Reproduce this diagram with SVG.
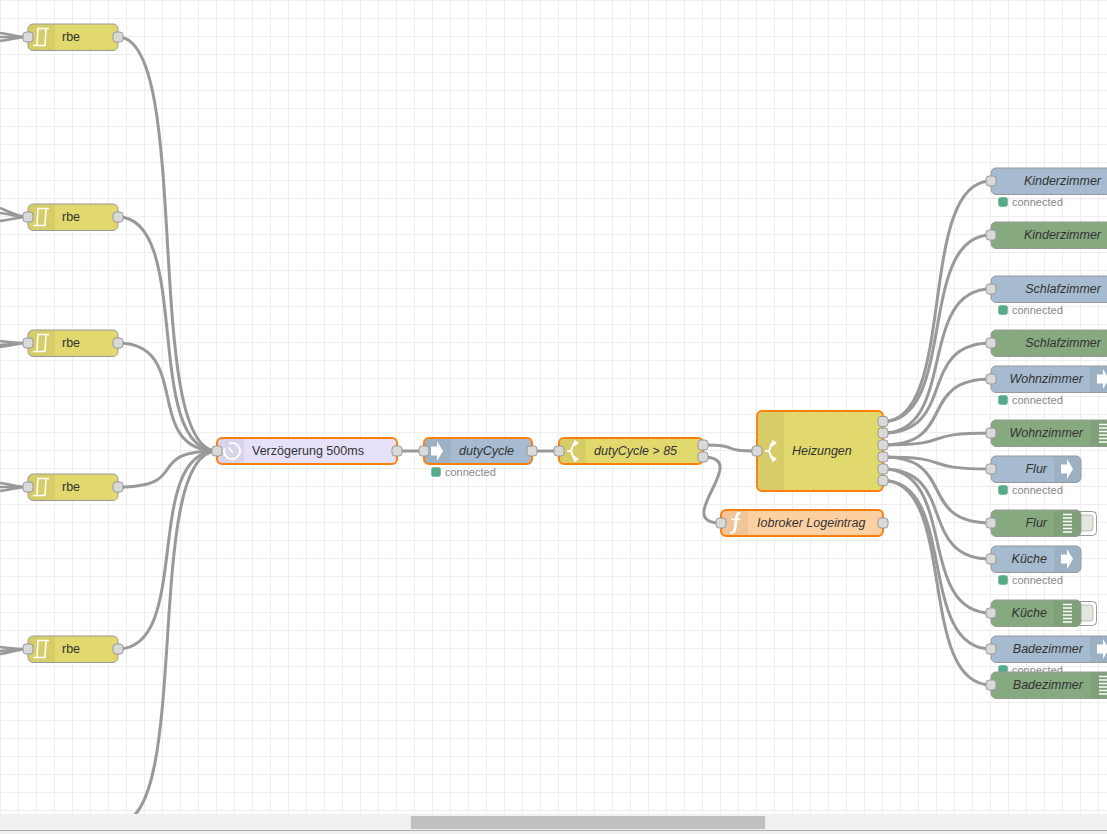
<svg xmlns="http://www.w3.org/2000/svg" width="1107" height="834" viewBox="0 0 1107 834">
<style>
text{font-family:"Liberation Sans",Arial,sans-serif;font-size:12.500px;fill:#333}
.i{font-style:italic}
.n{stroke:#999;stroke-width:1}
.sel{stroke:#ff7f0e;stroke-width:2}
.yellow{fill:#e2d96e}.purple{fill:#e6e0f8}.blue{fill:#a6bbcf}.green{fill:#87a980}.orange{fill:#fdd0a2}
.shade{fill:#000;fill-opacity:.05}
.p{fill:#d9d9d9;stroke:#999;stroke-width:1}
.w{fill:none;stroke:#999;stroke-width:3}
.stub{fill:none;stroke:#999;stroke-width:2.500}
.st{fill:#5a8;stroke:#5a8;stroke-opacity:.5;stroke-width:1}
text.s{font-size:11px;fill:#888}
.ic{fill:none;stroke:#fff;stroke-width:1.600}
.icf{fill:#fff}
</style>
<defs>
<pattern id="grid" width="18" height="18" patternUnits="userSpaceOnUse">
<rect width="18" height="18" fill="#fff"/>
<rect x="0" y="0" width="18" height="1" fill="#eee"/>
<rect x="0" y="0" width="1" height="18" fill="#eee"/>
</pattern>
<rect id="port" x="-5" y="-5" width="10" height="10" rx="3" class="p"/>
<path id="ic-rbe" class="ic" stroke-linejoin="round" d="M-8 8.500H-4L-3 -8.500H8M-4 8.500H4L5 -8.500"/>
<g id="ic-switch"><path class="ic" style="stroke-width:2" d="M-6 0H-3C0 0 -1 -8 2 -8M-3 0C0 0 -1 8 2 8"/><path class="icf" d="M1 -11.500L6 -8L1 -4.500ZM1 4.500L6 8L1 11.500Z"/></g>
<path id="ic-arrow" class="icf" d="M-6 -4.500H0V-10L6 0L0 10V4.500H-6Z"/>
<path id="ic-debug" class="ic" style="stroke-width:1.400" d="M-4.500 -8.500H4.500M-4.500 -5H4.500M-4.500 -1.500H4.500M-4.500 2H4.500M-4.500 5.500H4.500M-4.500 9H4.500"/>
<g id="ic-clock"><path class="ic" style="stroke-width:1.800" d="M-3 -7.400A8 8 0 1 1 -7.400 -3"/><path class="ic" style="stroke-width:1.800" d="M-3.500 -3.500L1 1.500"/></g>
<path id="ic-f" class="icf" d="M5.500 -11C1 -11.500 .5 -8 0 -4.500H-3.500V-2.800H-.2L-1.500 6C-1.800 8.500 -3 9 -5 8.500V10.500C-.5 11.500 .8 9 1.300 6L2.500 -2.800H5.500V-4.500H2.800C3.200 -7 3.500 -9.200 5.500 -9.200Z"/>
</defs>
<rect id="background" width="1107" height="834" fill="url(#grid)"/>

<g id="connectors">
<path class="stub" d="M0 33C10 34 18 37 28 37M0 37H28M0 41C10 40 18 37 28 37"/>
<path class="stub" d="M0 208C10 212 18 217 28 217M0 213C10 214 18 217 28 217M0 221C10 220 18 217 28 217"/>
<path class="stub" d="M0 341C10 342 18 343 28 343M0 345C10 344 18 343 28 343M0 347C10 346 18 343 28 343"/>
<path class="stub" d="M0 483C10 484 18 487 28 487M0 487H28M0 491C10 490 18 487 28 487"/>
<path class="stub" d="M0 647C10 648 18 649 28 649M0 651C10 650 18 649 28 649M0 654C10 653 18 649 28 649"/>
<path class="w" d="M118 37C193 37 142 451 217 451"/>
<path class="w" d="M118 217C193 217 142 451 217 451"/>
<path class="w" d="M118 343C193 343 142 451 217 451"/>
<path class="w" d="M118 487C193 487 142 451 217 451"/>
<path class="w" d="M118 649C193 649 142 451 217 451"/>
<path class="w" d="M118 823C193 823 142 451 217 451"/>
<path class="w" d="M397 451H424"/>
<path class="w" d="M532 451H559"/>
<path class="w" d="M703 445C744 445 716 451 757 451"/>
<path class="w" d="M703 457C754 457 670 523 721 523"/>
<path class="w" d="M883 421.500C958 421.500 916 181 991 181"/>
<path class="w" d="M883 421.500C958 421.500 916 235 991 235"/>
<path class="w" d="M883 433C958 433 916 289 991 289"/>
<path class="w" d="M883 433C958 433 916 343 991 343"/>
<path class="w" d="M883 445C958 445 916 379 991 379"/>
<path class="w" d="M883 445C958 445 916 433 991 433"/>
<path class="w" d="M883 457C958 457 916 469 991 469"/>
<path class="w" d="M883 457C958 457 916 523 991 523"/>
<path class="w" d="M883 469C958 469 916 559 991 559"/>
<path class="w" d="M883 469C958 469 916 613 991 613"/>
<path class="w" d="M883 480.500C958 480.500 916 649 991 649"/>
<path class="w" d="M883 480.500C958 480.500 916 685 991 685"/>
</g>

<g id="rbe1"><rect class="n yellow" x="28" y="24" width="90" height="26.500" rx="5"/><path class="shade" d="M33 24.500H55V50H33Q28.500 50 28.500 46V29Q28.500 24.500 33 24.500Z"/><use href="#ic-rbe" x="41" y="37"/><text x="62" y="41">rbe</text><use href="#port" x="28" y="37"/><use href="#port" x="118" y="37"/></g>
<g id="rbe2"><rect class="n yellow" x="28" y="204" width="90" height="26.500" rx="5"/><path class="shade" d="M33 204.500H55V230H33Q28.500 230 28.500 226V209Q28.500 204.500 33 204.500Z"/><use href="#ic-rbe" x="41" y="217"/><text x="62" y="221">rbe</text><use href="#port" x="28" y="217"/><use href="#port" x="118" y="217"/></g>
<g id="rbe3"><rect class="n yellow" x="28" y="330" width="90" height="26.500" rx="5"/><path class="shade" d="M33 330.500H55V356H33Q28.500 356 28.500 352V335Q28.500 330.500 33 330.500Z"/><use href="#ic-rbe" x="41" y="343"/><text x="62" y="347">rbe</text><use href="#port" x="28" y="343"/><use href="#port" x="118" y="343"/></g>
<g id="rbe4"><rect class="n yellow" x="28" y="474" width="90" height="26.500" rx="5"/><path class="shade" d="M33 474.500H55V500H33Q28.500 500 28.500 496V479Q28.500 474.500 33 474.500Z"/><use href="#ic-rbe" x="41" y="487"/><text x="62" y="491">rbe</text><use href="#port" x="28" y="487"/><use href="#port" x="118" y="487"/></g>
<g id="rbe5"><rect class="n yellow" x="28" y="636" width="90" height="26.500" rx="5"/><path class="shade" d="M33 636.500H55V662H33Q28.500 662 28.500 658V641Q28.500 636.500 33 636.500Z"/><use href="#ic-rbe" x="41" y="649"/><text x="62" y="653">rbe</text><use href="#port" x="28" y="649"/><use href="#port" x="118" y="649"/></g>

<g id="delay"><rect class="sel purple" x="217" y="438" width="180" height="26" rx="5"/><path class="shade" d="M222 439H244V463H222Q218 463 218 459V443Q218 439 222 439Z"/><use href="#ic-clock" x="232" y="451"/><text x="252" y="455">Verzögerung 500ms</text><use href="#port" x="217" y="451"/><use href="#port" x="397" y="451"/></g>

<g id="dutyCycle"><rect class="sel blue" x="424" y="438" width="108" height="26" rx="5"/><path class="shade" d="M429 439H451V463H429Q425 463 425 459V443Q425 439 429 439Z"/><use href="#ic-arrow" x="437" y="451"/><text class="i" x="459" y="455">dutyCycle</text><use href="#port" x="424" y="451"/><use href="#port" x="532" y="451"/><rect class="st" x="431.500" y="467.500" width="9" height="9" rx="2"/><text class="s" x="445" y="476">connected</text></g>

<g id="switch85"><rect class="sel yellow" x="559" y="438" width="144" height="26" rx="5"/><path class="shade" d="M564 439H586V463H564Q560 463 560 459V443Q560 439 564 439Z"/><use href="#ic-switch" x="573" y="451"/><text class="i" x="594" y="455">dutyCycle &gt; 85</text><use href="#port" x="559" y="451"/><use href="#port" x="703" y="445"/><use href="#port" x="703" y="457"/></g>

<g id="heizungen"><rect class="sel yellow" x="757" y="411" width="126" height="80" rx="5"/><path class="shade" d="M762 412H784V490H762Q758 490 758 486V416Q758 412 762 412Z"/><use href="#ic-switch" x="771" y="451"/><text class="i" x="792" y="455">Heizungen</text><use href="#port" x="757" y="451"/><use href="#port" x="883" y="421.500"/><use href="#port" x="883" y="433"/><use href="#port" x="883" y="445"/><use href="#port" x="883" y="457"/><use href="#port" x="883" y="469"/><use href="#port" x="883" y="480.500"/></g>

<g id="logeintrag"><rect class="sel orange" x="721" y="510" width="162" height="26" rx="5"/><path class="shade" d="M726 511H748V535H726Q722 535 722 531V515Q722 511 726 511Z"/><use href="#ic-f" x="735" y="523"/><text class="i" x="757" y="527">Iobroker Logeintrag</text><use href="#port" x="721" y="523"/><use href="#port" x="883" y="523"/></g>

<g id="out-kinderzimmer-mqtt"><rect class="n blue" x="991" y="168" width="140" height="26.500" rx="5"/><text class="i" x="1101" y="185" text-anchor="end">Kinderzimmer</text><use href="#port" x="991" y="181"/><rect class="st" x="998.500" y="197.500" width="9" height="9" rx="2"/><text class="s" x="1012" y="206">connected</text></g>
<g id="out-kinderzimmer-debug"><rect class="n green" x="991" y="222" width="140" height="26.500" rx="5"/><text class="i" x="1101" y="239" text-anchor="end">Kinderzimmer</text><use href="#port" x="991" y="235"/></g>
<g id="out-schlafzimmer-mqtt"><rect class="n blue" x="991" y="276" width="140" height="26.500" rx="5"/><text class="i" x="1101" y="293" text-anchor="end">Schlafzimmer</text><use href="#port" x="991" y="289"/><rect class="st" x="998.500" y="305.500" width="9" height="9" rx="2"/><text class="s" x="1012" y="314">connected</text></g>
<g id="out-schlafzimmer-debug"><rect class="n green" x="991" y="330" width="140" height="26.500" rx="5"/><text class="i" x="1101" y="347" text-anchor="end">Schlafzimmer</text><use href="#port" x="991" y="343"/></g>
<g id="out-wohnzimmer-mqtt"><rect class="n blue" x="991" y="366" width="130" height="26.500" rx="5"/><rect class="shade" x="1090" y="366.500" width="32" height="25.500"/><use href="#ic-arrow" x="1103" y="379"/><text class="i" x="1083" y="383" text-anchor="end">Wohnzimmer</text><use href="#port" x="991" y="379"/><rect class="st" x="998.500" y="395.500" width="9" height="9" rx="2"/><text class="s" x="1012" y="404">connected</text></g>
<g id="out-wohnzimmer-debug"><rect class="n green" x="991" y="420" width="130" height="26.500" rx="5"/><rect class="shade" x="1090" y="420.500" width="32" height="25.500"/><use href="#ic-debug" x="1103.500" y="433"/><text class="i" x="1083" y="437" text-anchor="end">Wohnzimmer</text><use href="#port" x="991" y="433"/></g>
<g id="out-flur-mqtt"><rect class="n blue" x="991" y="456" width="90" height="26.500" rx="5"/><path class="shade" d="M1054 456.500H1076.500Q1080.500 456.500 1080.500 460.500V478Q1080.500 482 1076.500 482H1054Z"/><use href="#ic-arrow" x="1067" y="469"/><text class="i" x="1047" y="473" text-anchor="end">Flur</text><use href="#port" x="991" y="469"/><rect class="st" x="998.500" y="485.500" width="9" height="9" rx="2"/><text class="s" x="1012" y="494">connected</text></g>
<g id="out-flur-debug"><rect x="1075.500" y="511.500" width="21" height="24" rx="4" fill="#fff" stroke="#999"/><rect x="1075" y="515" width="18" height="16" rx="3" fill="#87a980" fill-opacity=".25" stroke="#999" stroke-opacity=".6"/><rect class="n green" x="991" y="510" width="90" height="26.500" rx="5"/><path class="shade" d="M1054 510.500H1076.500Q1080.500 510.500 1080.500 514.500V532Q1080.500 536 1076.500 536H1054Z"/><use href="#ic-debug" x="1067.500" y="523"/><text class="i" x="1047" y="527" text-anchor="end">Flur</text><use href="#port" x="991" y="523"/></g>
<g id="out-kueche-mqtt"><rect class="n blue" x="991" y="546" width="90" height="26.500" rx="5"/><path class="shade" d="M1054 546.500H1076.500Q1080.500 546.500 1080.500 550.500V568Q1080.500 572 1076.500 572H1054Z"/><use href="#ic-arrow" x="1067" y="559"/><text class="i" x="1047" y="563" text-anchor="end">Küche</text><use href="#port" x="991" y="559"/><rect class="st" x="998.500" y="575.500" width="9" height="9" rx="2"/><text class="s" x="1012" y="584">connected</text></g>
<g id="out-kueche-debug"><rect x="1075.500" y="601.500" width="21" height="24" rx="4" fill="#fff" stroke="#999"/><rect x="1075" y="605" width="18" height="16" rx="3" fill="#87a980" fill-opacity=".25" stroke="#999" stroke-opacity=".6"/><rect class="n green" x="991" y="600" width="90" height="26.500" rx="5"/><path class="shade" d="M1054 600.500H1076.500Q1080.500 600.500 1080.500 604.500V622Q1080.500 626 1076.500 626H1054Z"/><use href="#ic-debug" x="1067.500" y="613"/><text class="i" x="1047" y="617" text-anchor="end">Küche</text><use href="#port" x="991" y="613"/></g>
<g id="out-badezimmer-mqtt"><rect class="n blue" x="991" y="636" width="130" height="26.500" rx="5"/><rect class="shade" x="1090" y="636.500" width="32" height="25.500"/><use href="#ic-arrow" x="1103" y="649"/><text class="i" x="1083" y="653" text-anchor="end">Badezimmer</text><use href="#port" x="991" y="649"/><rect class="st" x="998.500" y="665.500" width="9" height="9" rx="2"/><text class="s" x="1012" y="674">connected</text></g>
<g id="out-badezimmer-debug"><rect class="n green" x="991" y="672" width="130" height="26.500" rx="5"/><rect class="shade" x="1090" y="672.500" width="32" height="25.500"/><use href="#ic-debug" x="1103.500" y="685"/><text class="i" x="1083" y="689" text-anchor="end">Badezimmer</text><use href="#port" x="991" y="685"/></g>

<g id="scrollbar">
<rect x="0" y="814" width="1107" height="20" fill="#f0f0f0"/>
<rect x="411" y="816" width="354" height="13" fill="#c0c0c0"/>
<rect x="0" y="830" width="1107" height="1" fill="#aaa"/>
</g>
</svg>
